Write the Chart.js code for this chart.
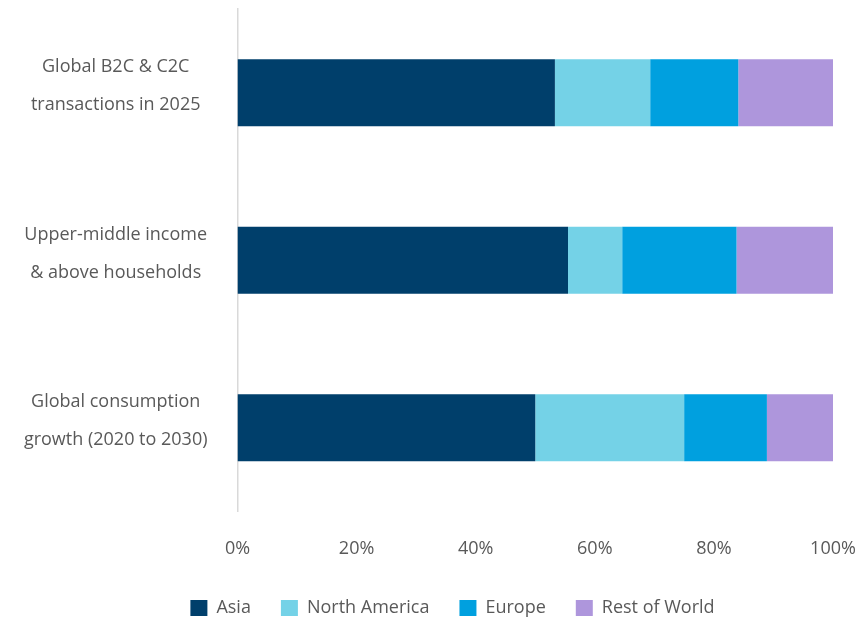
<!DOCTYPE html>
<html>
<head>
<meta charset="utf-8">
<script src="https://cdn.jsdelivr.net/npm/chart.js@4/dist/chart.umd.min.js"></script>
<style>
  html, body { margin: 0; padding: 0; background: #ffffff; }
  #wrap { width: 860px; height: 618px; }
</style>
</head>
<body>
<div id="wrap"><canvas id="c" width="860" height="618"></canvas></div>
<script>
const categories = [
  ["Global B2C & C2C", "transactions in 2025"],
  ["Upper-middle income", "& above households"],
  ["Global consumption", "growth (2020 to 2030)"]
];
const seriesNames = ["Asia", "North America", "Europe", "Rest of World"];
const asia = [53.3, 55.5, 50.0];
const northAmerica = [16.0, 9.1, 25.0];
const europe = [14.8, 19.2, 13.9];
const restOfWorld = [15.9, 16.2, 11.1];
const xTicks = [0, 20, 40, 60, 80, 100];
const colors = ["#003F6B", "#74D2E7", "#00A0DF", "#AE96DC"];

const FONT = "'Open Sans', 'Noto Sans', sans-serif";
const TXT = "#595959";

const values = [asia, northAmerica, europe, restOfWorld];
const datasets = seriesNames.map((n, i) => ({
  label: n,
  data: values[i],
  backgroundColor: colors[i],
  borderWidth: 0,
  categoryPercentage: 1.0,
  barPercentage: 0.4
}));

const legendShift = {
  id: 'legendShift',
  afterLayout(chart) {
    const lg = chart.legend;
    if (lg) { lg.left += 36; lg.right += 36; }
  }
};

new Chart(document.getElementById('c'), {
  type: 'bar',
  data: { labels: categories, datasets },
  plugins: [legendShift],
  options: {
    indexAxis: 'y',
    responsive: false,
    animation: false,
    devicePixelRatio: 1,
    layout: { padding: { top: 9, right: 27, bottom: -9, left: 0 } },
    plugins: {
      legend: {
        position: 'bottom',
        labels: {
          boxWidth: 17,
          boxHeight: 16,
          padding: 30,
          color: TXT,
          font: { family: FONT, size: 18 }
        }
      },
      tooltip: { enabled: false }
    },
    scales: {
      x: {
        stacked: true,
        min: 0,
        max: 100,
        afterBuildTicks: (s) => { s.ticks = xTicks.map(v => ({ value: v })); },
        afterFit: (s) => { s.paddingLeft = 0; s.paddingRight = 0; s.height -= 18; },
        grid: { display: false, drawTicks: false },
        border: { display: false },
        ticks: {
          padding: 27,
          color: TXT,
          font: { family: FONT, size: 18 },
          callback: (v) => v + '%'
        }
      },
      y: {
        stacked: true,
        afterFit: (s) => { s.width = 237.5; s.paddingTop = 0; s.paddingBottom = 0; },
        grid: { display: false, drawTicks: false },
        border: { display: true, color: '#D9D9D9', width: 1.5 },
        ticks: {
          padding: 30,
          crossAlign: 'center',
          labelOffset: -6.5,
          color: TXT,
          font: { family: FONT, size: 18, lineHeight: 2.11 }
        }
      }
    }
  }
});
</script>
</body>
</html>
